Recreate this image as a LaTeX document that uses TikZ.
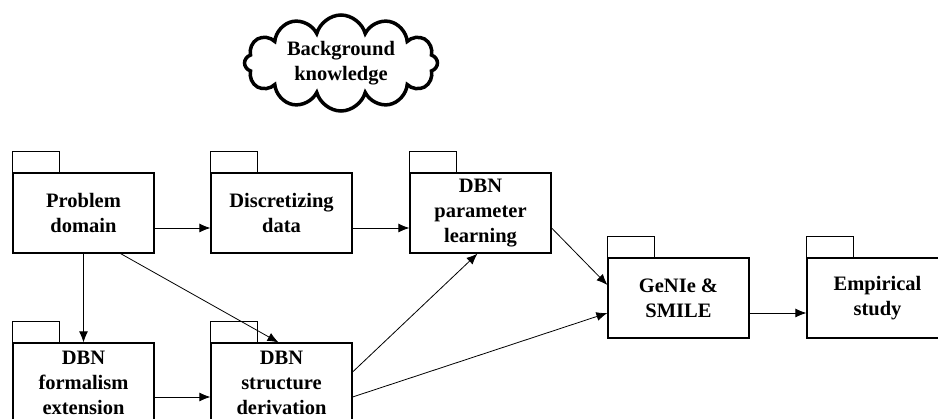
\documentclass[tikz,border=0pt]{standalone}
\usepackage{fontspec}
\setmainfont{Liberation Serif}
\usetikzlibrary{shapes.symbols,arrows.meta}
\tikzset{
  pkg/.style={draw, line width=1.2pt, minimum width=141pt, minimum height=80pt,
    align=center, font=\fontsize{20.5}{25}\selectfont\bfseries, inner sep=0pt,
    append after command={\pgfextra{\draw[line width=1.2pt] (\tikzlastnode.north west) rectangle ++(47pt,21pt);}}},
  conn/.style={-{Latex[length=11pt,width=9pt]}, line width=0.8pt},
  bgcloud/.style={cloud, cloud puffs=12, cloud ignores aspect, draw, line width=3.5pt,
    minimum width=193pt, minimum height=96pt, align=center, inner sep=0pt,
    font=\fontsize{20.5}{25}\selectfont\bfseries}
}
\begin{document}
\begin{tikzpicture}[x=1pt,y=-1pt]
\useasboundingbox (0,0) rectangle (938,419);
\clip (0,0) rectangle (938,419);
\node[bgcloud] (bk) at (341,63) {Background\\knowledge};
\node[pkg] (pd) at (83.5,213) {Problem\\domain};
\node[pkg] (dd) at (281.5,213) {Discretizing\\data};
\node[pkg] (pl) at (480.5,213) {DBN\\parameter\\learning};
\node[pkg] (gs) at (678.5,298) {GeNIe \&\\SMILE};
\node[pkg] (es) at (877.5,298) {Empirical\\study};
\node[pkg] (fe) at (83.5,383) {DBN\\formalism\\extension};
\node[pkg] (sd) at (281.5,383) {DBN\\structure\\derivation};
\draw[conn] ([yshift=-15pt]pd.east) -- ([yshift=-15pt]dd.west);
\draw[conn] ([yshift=-15pt]dd.east) -- ([yshift=-15pt]pl.west);
\draw[conn] (pd.south) -- (fe.north);
\draw[conn] ([xshift=-34pt]pd.south east) -- ([xshift=-3pt]sd.north);
\draw[conn] ([yshift=-14pt]fe.east) -- ([yshift=-14pt]sd.west);
\draw[conn] ([yshift=11pt]sd.east) -- ([xshift=-3pt]pl.south);
\draw[conn] ([yshift=-14pt]sd.east) -- ([yshift=-15pt]gs.west);
\draw[conn] ([yshift=-15pt]pl.east) -- ([yshift=13pt]gs.west);
\draw[conn] ([yshift=-15pt]gs.east) -- ([yshift=-15pt]es.west);
\end{tikzpicture}
\end{document}
